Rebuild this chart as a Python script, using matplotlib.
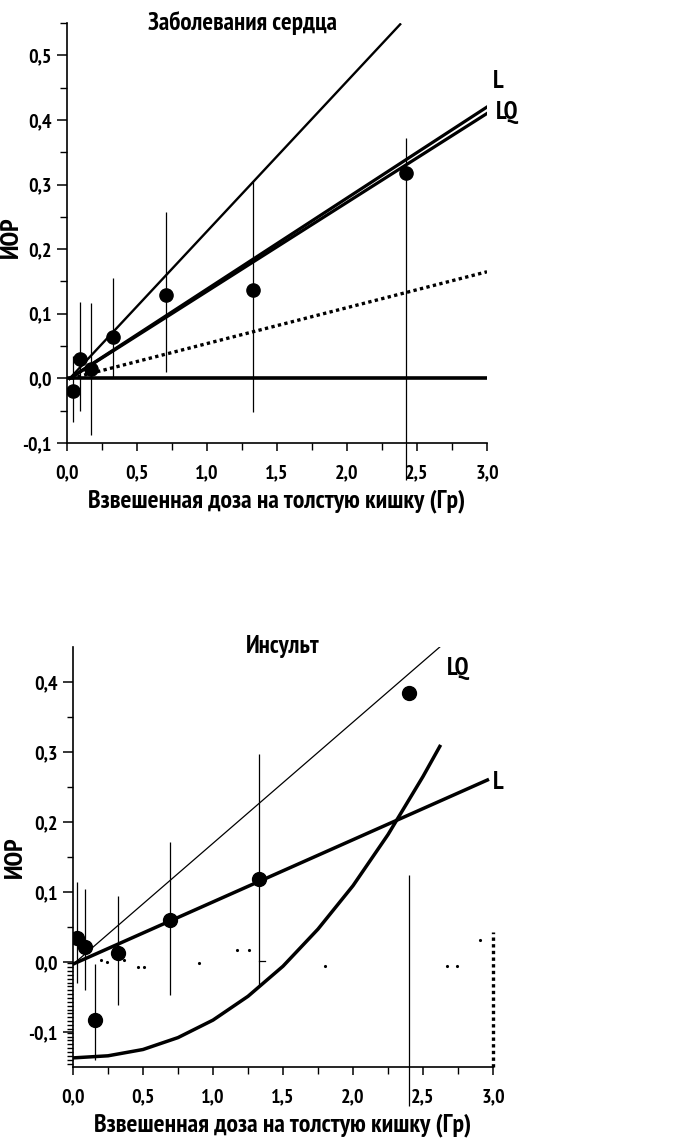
import numpy as np
import matplotlib
matplotlib.use("Agg")
import matplotlib.pyplot as plt
from matplotlib import font_manager
from matplotlib.ticker import MultipleLocator, FixedLocator, FuncFormatter

# узкий жирный шрифт, если есть
avail = {f.name for f in font_manager.fontManager.ttflist}
main_font = 'Liberation Sans'
for cand in ['PT Sans Narrow', 'Roboto Condensed', 'Fira Sans Condensed',
             'Open Sans Condensed', 'Liberation Sans']:
    if cand in avail:
        main_font = cand
        break
plt.rcParams['font.family'] = [main_font, 'DejaVu Sans']
plt.rcParams['font.weight'] = 'bold'

# --- Заболевания сердца (верхняя панель) ---
heart_x = [0.04, 0.09, 0.17, 0.33, 0.71, 1.33, 2.42]
heart_y = [-0.020, 0.030, 0.015, 0.064, 0.129, 0.137, 0.318]
heart_lo = [-0.068, -0.050, -0.087, 0.002, 0.010, -0.052, -0.157]
heart_hi = [0.035, 0.118, 0.117, 0.155, 0.258, 0.305, 0.372]

heart_steep_x = [0.02, 2.38]
heart_steep_y = [0.0, 0.548]
heart_L_x = [0.02, 3.0]
heart_L_y = [0.0, 0.42]
heart_LQ_x = [0.02, 3.0]
heart_LQ_y = [0.0, 0.41]
heart_dot_x = [0.03, 3.0]
heart_dot_y = [0.0, 0.165]

# --- Инсульт (нижняя панель) ---
stroke_x = [0.025, 0.085, 0.16, 0.32, 0.69, 1.33, 2.40]
stroke_y = [0.035, 0.022, -0.083, 0.013, 0.060, 0.118, 0.385]
stroke_err_x = [0.025, 0.085, 0.16, 0.32, 0.69, 1.33, 2.40]
stroke_lo = [-0.030, -0.040, -0.140, -0.062, -0.047, -0.033, -0.205]
stroke_hi = [0.115, 0.105, -0.003, 0.095, 0.172, 0.297, 0.124]

stroke_LQ_x = [0.02, 2.62]
stroke_LQ_y = [0.0, 0.45]
stroke_L_x = [0.0, 2.96]
stroke_L_y = [-0.003, 0.26]
stroke_curve_x = [0.0, 0.25, 0.5, 0.75, 1.0, 1.25, 1.5, 1.75, 2.0, 2.25, 2.5, 2.62]
stroke_curve_y = [-0.137, -0.134, -0.125, -0.108, -0.083, -0.049, -0.006,
                  0.047, 0.109, 0.182, 0.265, 0.308]
stroke_specks_x = [0.20, 0.245, 0.364, 0.462, 0.507, 0.90, 1.17, 1.26, 1.80, 2.67, 2.74, 2.91]
stroke_specks_y = [0.003, 0.0, 0.003, -0.007, -0.007, -0.002, 0.017, 0.017, -0.005, -0.005, -0.005, 0.031]
stroke_dash_x = [1.33, 1.37]
stroke_dash_y = [0.002, 0.002]

xlabel = 'Взвешенная доза на толстую кишку (Гр)'
ylabel = 'ИОР'

fig = plt.figure(figsize=(6.84, 11.39), dpi=100)
ax1 = fig.add_axes([67/684, 1-443/1139, 420/684, 420/1139])
ax2 = fig.add_axes([73/684, 1-1067/1139, 420/684, 420/1139])

comma = FuncFormatter(lambda v, p: ('%.1f' % v).replace('.', ','))

for ax in (ax1, ax2):
    for s in ('top', 'right'):
        ax.spines[s].set_visible(False)
    ax.spines['left'].set_linewidth(1.2)
    ax.spines['bottom'].set_linewidth(1.2)
    ax.set_xlim(0, 3.0)
    ax.xaxis.set_major_locator(MultipleLocator(0.5))
    ax.xaxis.set_minor_locator(MultipleLocator(0.25))
    ax.xaxis.set_major_formatter(comma)
    ax.yaxis.set_major_formatter(comma)
    ax.tick_params(axis='x', which='major', length=6, width=1.1, pad=9, labelsize=14.5)
    ax.tick_params(axis='x', which='minor', length=5, width=1.0)
    ax.tick_params(axis='y', which='major', length=7, width=1.1, pad=4, labelsize=14.5)
    ax.tick_params(axis='y', which='minor', length=5, width=1.0)
    ax.set_xlabel(xlabel, fontsize=18.5, fontweight='bold')
    ax.set_ylabel(ylabel, fontsize=19, fontweight='bold')

ax1.xaxis.set_label_coords(0.50, -0.11)
ax2.xaxis.set_label_coords(0.50, -0.11)
ax1.yaxis.set_label_coords(-0.105, 0.49)
ax2.yaxis.set_label_coords(-0.11, 0.50)

# верхняя панель
ax1.set_ylim(-0.1, 0.55)
ax1.yaxis.set_major_locator(FixedLocator([-0.1, 0.0, 0.1, 0.2, 0.3, 0.4, 0.5]))
ax1.yaxis.set_minor_locator(MultipleLocator(0.05))
ax1.plot([0, 3.0], [0, 0], color='black', lw=2.6)
ax1.plot(heart_steep_x, heart_steep_y, color='black', lw=1.7)
ax1.plot(heart_L_x, heart_L_y, color='black', lw=2.3)
ax1.plot(heart_LQ_x, heart_LQ_y, color='black', lw=2.3)
ax1.plot(heart_dot_x, heart_dot_y, color='black', lw=2.4, linestyle=(0, (1, 1)))
ax1.vlines(heart_x, heart_lo, heart_hi, color='black', lw=0.9, clip_on=False)
ax1.plot(heart_x, heart_y, 'o', color='black', ms=9.5)
ax1.text(1.25, 0.55, 'Заболевания сердца', fontsize=18, fontweight='bold',
         ha='center', va='center')
ax1.text(3.04, 0.46, 'L', fontsize=18, fontweight='bold', va='center', clip_on=False)
ax1.text(3.06, 0.412, 'LQ', fontsize=18, fontweight='bold', va='center', clip_on=False)

# нижняя панель
ax2.set_ylim(-0.15, 0.45)
ax2.yaxis.set_major_locator(FixedLocator([-0.1, 0.0, 0.1, 0.2, 0.3, 0.4]))
ax2.yaxis.set_minor_locator(FixedLocator(list(np.arange(-0.145, 0.0, 0.0055)) +
                                         [0.05, 0.15, 0.25, 0.35]))
ax2.tick_params(axis='y', which='minor', length=4)
ax2.plot(stroke_LQ_x, stroke_LQ_y, color='black', lw=0.9)
ax2.plot(stroke_L_x, stroke_L_y, color='black', lw=2.5)
ax2.plot(stroke_curve_x, stroke_curve_y, color='black', lw=2.5)
ax2.vlines([3.0], [-0.15], [0.043], color='black', lw=2.4,
           linestyle=(0, (1, 1)), clip_on=False)
ax2.plot(stroke_specks_x, stroke_specks_y, '.', color='black', ms=2.5)
ax2.plot(stroke_dash_x, stroke_dash_y, color='black', lw=0.9)
ax2.vlines(stroke_err_x, stroke_lo, stroke_hi, color='black', lw=0.9, clip_on=False)
ax2.plot(stroke_x, stroke_y, 'o', color='black', ms=10)
ax2.text(1.5, 0.45, 'Инсульт', fontsize=18, fontweight='bold', ha='center', va='center')
ax2.text(2.67, 0.42, 'LQ', fontsize=18, fontweight='bold', va='center', clip_on=False)
ax2.text(3.0, 0.257, 'L', fontsize=18, fontweight='bold', va='center', clip_on=False)

fig.savefig('out.png', dpi=100)
